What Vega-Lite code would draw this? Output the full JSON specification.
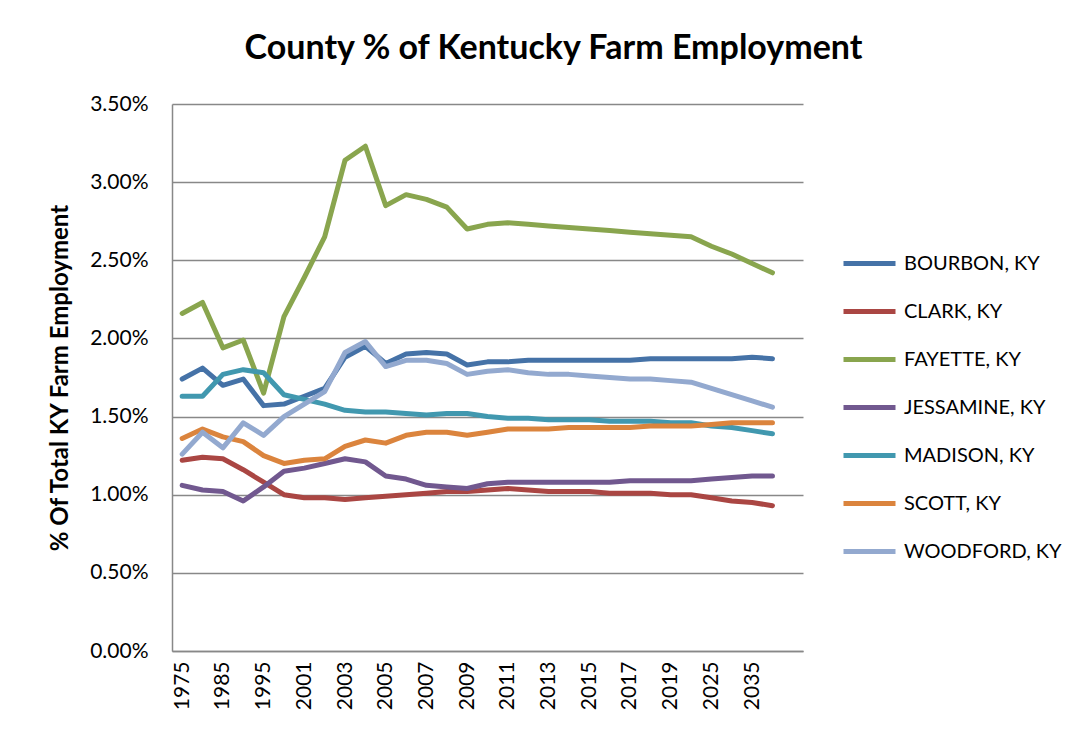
{
  "$schema": "https://vega.github.io/schema/vega-lite/v6.json",
  "width": 631,
  "height": 547,
  "autosize": {"type": "none"},
  "padding": {"left": 172, "top": 104, "right": 288, "bottom": 85},
  "background": "white",
  "title": {
    "text": "County % of Kentucky Farm Employment",
    "font": "Lato",
    "fontSize": 34,
    "fontWeight": "bold",
    "color": "black",
    "anchor": "middle",
    "frame": "group",
    "dx": 66,
    "offset": 27
  },
  "data": {
    "values": [
      {"year": "1975", "BOURBON": 1.74, "CLARK": 1.22, "FAYETTE": 2.16, "JESSAMINE": 1.06, "MADISON": 1.63, "SCOTT": 1.36, "WOODFORD": 1.26},
      {"year": "1980", "BOURBON": 1.81, "CLARK": 1.24, "FAYETTE": 2.23, "JESSAMINE": 1.03, "MADISON": 1.63, "SCOTT": 1.42, "WOODFORD": 1.40},
      {"year": "1985", "BOURBON": 1.70, "CLARK": 1.23, "FAYETTE": 1.94, "JESSAMINE": 1.02, "MADISON": 1.77, "SCOTT": 1.37, "WOODFORD": 1.30},
      {"year": "1990", "BOURBON": 1.74, "CLARK": 1.16, "FAYETTE": 1.99, "JESSAMINE": 0.96, "MADISON": 1.80, "SCOTT": 1.34, "WOODFORD": 1.46},
      {"year": "1995", "BOURBON": 1.57, "CLARK": 1.08, "FAYETTE": 1.65, "JESSAMINE": 1.05, "MADISON": 1.78, "SCOTT": 1.25, "WOODFORD": 1.38},
      {"year": "2000", "BOURBON": 1.58, "CLARK": 1.00, "FAYETTE": 2.14, "JESSAMINE": 1.15, "MADISON": 1.64, "SCOTT": 1.20, "WOODFORD": 1.50},
      {"year": "2001", "BOURBON": 1.63, "CLARK": 0.98, "FAYETTE": 2.39, "JESSAMINE": 1.17, "MADISON": 1.61, "SCOTT": 1.22, "WOODFORD": 1.58},
      {"year": "2002", "BOURBON": 1.68, "CLARK": 0.98, "FAYETTE": 2.65, "JESSAMINE": 1.20, "MADISON": 1.58, "SCOTT": 1.23, "WOODFORD": 1.66},
      {"year": "2003", "BOURBON": 1.88, "CLARK": 0.97, "FAYETTE": 3.14, "JESSAMINE": 1.23, "MADISON": 1.54, "SCOTT": 1.31, "WOODFORD": 1.91},
      {"year": "2004", "BOURBON": 1.95, "CLARK": 0.98, "FAYETTE": 3.23, "JESSAMINE": 1.21, "MADISON": 1.53, "SCOTT": 1.35, "WOODFORD": 1.98},
      {"year": "2005", "BOURBON": 1.84, "CLARK": 0.99, "FAYETTE": 2.85, "JESSAMINE": 1.12, "MADISON": 1.53, "SCOTT": 1.33, "WOODFORD": 1.82},
      {"year": "2006", "BOURBON": 1.90, "CLARK": 1.00, "FAYETTE": 2.92, "JESSAMINE": 1.10, "MADISON": 1.52, "SCOTT": 1.38, "WOODFORD": 1.86},
      {"year": "2007", "BOURBON": 1.91, "CLARK": 1.01, "FAYETTE": 2.89, "JESSAMINE": 1.06, "MADISON": 1.51, "SCOTT": 1.40, "WOODFORD": 1.86},
      {"year": "2008", "BOURBON": 1.90, "CLARK": 1.02, "FAYETTE": 2.84, "JESSAMINE": 1.05, "MADISON": 1.52, "SCOTT": 1.40, "WOODFORD": 1.84},
      {"year": "2009", "BOURBON": 1.83, "CLARK": 1.02, "FAYETTE": 2.70, "JESSAMINE": 1.04, "MADISON": 1.52, "SCOTT": 1.38, "WOODFORD": 1.77},
      {"year": "2010", "BOURBON": 1.85, "CLARK": 1.03, "FAYETTE": 2.73, "JESSAMINE": 1.07, "MADISON": 1.50, "SCOTT": 1.40, "WOODFORD": 1.79},
      {"year": "2011", "BOURBON": 1.85, "CLARK": 1.04, "FAYETTE": 2.74, "JESSAMINE": 1.08, "MADISON": 1.49, "SCOTT": 1.42, "WOODFORD": 1.80},
      {"year": "2012", "BOURBON": 1.86, "CLARK": 1.03, "FAYETTE": 2.73, "JESSAMINE": 1.08, "MADISON": 1.49, "SCOTT": 1.42, "WOODFORD": 1.78},
      {"year": "2013", "BOURBON": 1.86, "CLARK": 1.02, "FAYETTE": 2.72, "JESSAMINE": 1.08, "MADISON": 1.48, "SCOTT": 1.42, "WOODFORD": 1.77},
      {"year": "2014", "BOURBON": 1.86, "CLARK": 1.02, "FAYETTE": 2.71, "JESSAMINE": 1.08, "MADISON": 1.48, "SCOTT": 1.43, "WOODFORD": 1.77},
      {"year": "2015", "BOURBON": 1.86, "CLARK": 1.02, "FAYETTE": 2.70, "JESSAMINE": 1.08, "MADISON": 1.48, "SCOTT": 1.43, "WOODFORD": 1.76},
      {"year": "2016", "BOURBON": 1.86, "CLARK": 1.01, "FAYETTE": 2.69, "JESSAMINE": 1.08, "MADISON": 1.47, "SCOTT": 1.43, "WOODFORD": 1.75},
      {"year": "2017", "BOURBON": 1.86, "CLARK": 1.01, "FAYETTE": 2.68, "JESSAMINE": 1.09, "MADISON": 1.47, "SCOTT": 1.43, "WOODFORD": 1.74},
      {"year": "2018", "BOURBON": 1.87, "CLARK": 1.01, "FAYETTE": 2.67, "JESSAMINE": 1.09, "MADISON": 1.47, "SCOTT": 1.44, "WOODFORD": 1.74},
      {"year": "2019", "BOURBON": 1.87, "CLARK": 1.00, "FAYETTE": 2.66, "JESSAMINE": 1.09, "MADISON": 1.46, "SCOTT": 1.44, "WOODFORD": 1.73},
      {"year": "2020", "BOURBON": 1.87, "CLARK": 1.00, "FAYETTE": 2.65, "JESSAMINE": 1.09, "MADISON": 1.46, "SCOTT": 1.44, "WOODFORD": 1.72},
      {"year": "2025", "BOURBON": 1.87, "CLARK": 0.98, "FAYETTE": 2.59, "JESSAMINE": 1.10, "MADISON": 1.44, "SCOTT": 1.45, "WOODFORD": 1.68},
      {"year": "2030", "BOURBON": 1.87, "CLARK": 0.96, "FAYETTE": 2.54, "JESSAMINE": 1.11, "MADISON": 1.43, "SCOTT": 1.46, "WOODFORD": 1.64},
      {"year": "2035", "BOURBON": 1.88, "CLARK": 0.95, "FAYETTE": 2.48, "JESSAMINE": 1.12, "MADISON": 1.41, "SCOTT": 1.46, "WOODFORD": 1.60},
      {"year": "2040", "BOURBON": 1.87, "CLARK": 0.93, "FAYETTE": 2.42, "JESSAMINE": 1.12, "MADISON": 1.39, "SCOTT": 1.46, "WOODFORD": 1.56}
    ]
  },
  "transform": [
    {"fold": ["BOURBON", "CLARK", "FAYETTE", "JESSAMINE", "MADISON", "SCOTT", "WOODFORD"], "as": ["county", "pct"]}
  ],
  "mark": {"type": "line", "strokeWidth": 5, "strokeJoin": "round", "strokeCap": "round"},
  "encoding": {
    "x": {
      "field": "year",
      "type": "ordinal",
      "sort": null,
      "scale": {"type": "point", "padding": 1, "align": 0.25},
      "axis": {
        "title": null,
        "values": ["1975", "1985", "1995", "2001", "2003", "2005", "2007", "2009", "2011", "2013", "2015", "2017", "2019", "2025", "2035"],
        "labelAngle": -90,
        "labelAlign": "right",
        "labelBaseline": "middle",
        "labelPadding": 10,
        "labelFont": "Lato",
        "labelFontSize": 21,
        "labelColor": "black",
        "ticks": false,
        "domainColor": "#888888",
        "domainWidth": 1.5,
        "grid": false
      }
    },
    "y": {
      "field": "pct",
      "type": "quantitative",
      "scale": {"domain": [0, 3.5], "nice": false},
      "axis": {
        "title": "% Of Total KY Farm Employment",
        "titleFont": "Lato",
        "titleFontSize": 24,
        "titleFontWeight": "bold",
        "titleColor": "black",
        "titleAngle": -90,
        "titleX": -112,
        "titleY": 273.5,
        "titleAlign": "center",
        "titleBaseline": "middle",
        "values": [0, 0.5, 1, 1.5, 2, 2.5, 3, 3.5],
        "labelExpr": "format(datum.value, '.2f') + '%'",
        "labelFont": "Lato",
        "labelFontSize": 21,
        "labelColor": "black",
        "labelPadding": 24,
        "ticks": false,
        "domainColor": "#888888",
        "domainWidth": 1.5,
        "grid": true,
        "gridColor": "#888888",
        "gridWidth": 1.5
      }
    },
    "color": {
      "field": "county",
      "type": "nominal",
      "scale": {
        "domain": ["BOURBON", "CLARK", "FAYETTE", "JESSAMINE", "MADISON", "SCOTT", "WOODFORD"],
        "range": ["#4572A7", "#AA4643", "#89A54E", "#71588F", "#4198AF", "#DB843D", "#93A9CF"]
      },
      "legend": {
        "title": null,
        "orient": "none",
        "legendX": 669,
        "legendY": 131,
        "symbolType": "stroke",
        "symbolSize": 2704,
        "symbolStrokeWidth": 5,
        "labelExpr": "datum.label + ', KY'",
        "labelFont": "Lato",
        "labelFontSize": 20,
        "labelColor": "black",
        "labelOffset": 6,
        "rowPadding": 9,
        "labelLimit": 300
      }
    }
  },
  "config": {
    "view": {"stroke": null}
  }
}
